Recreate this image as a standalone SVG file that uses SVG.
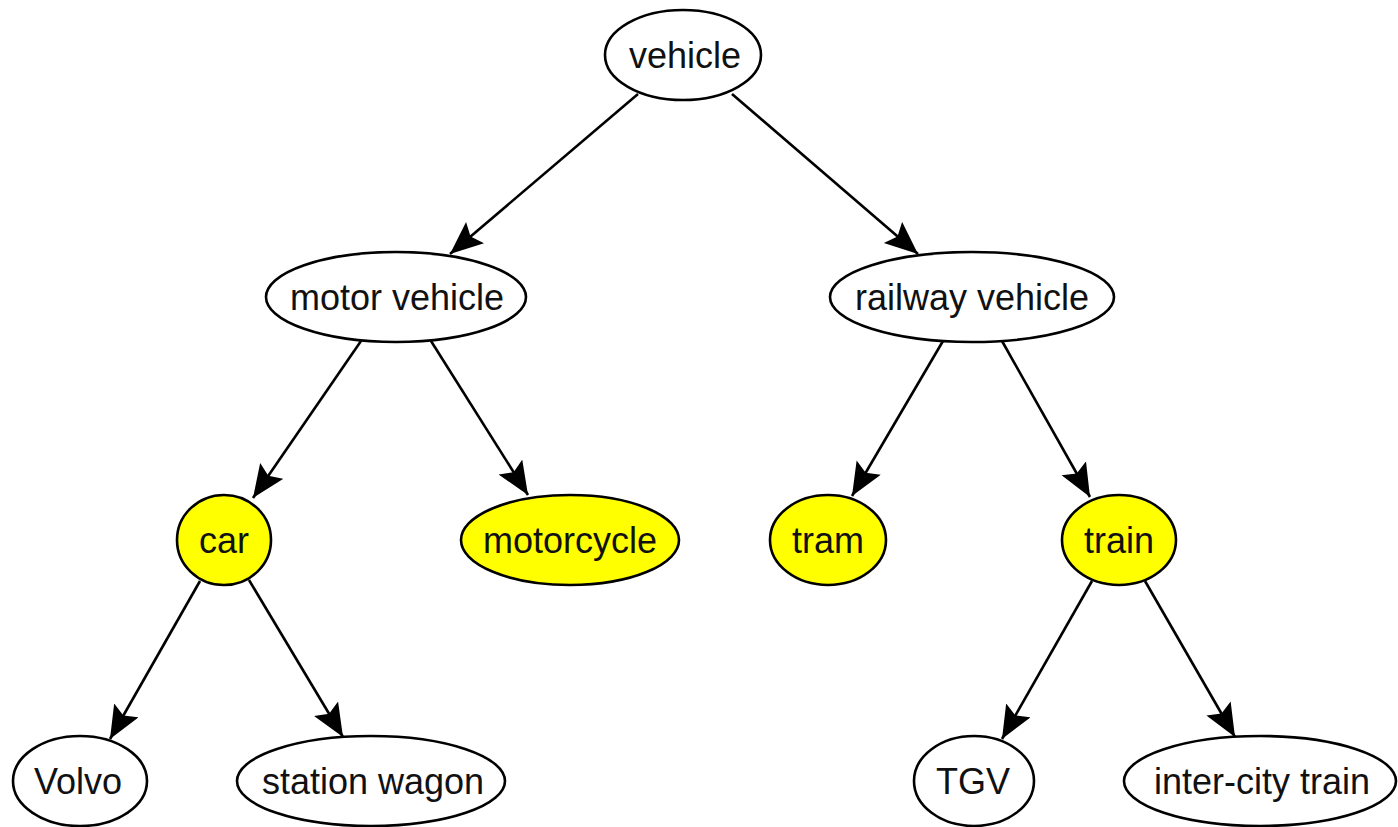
<svg xmlns="http://www.w3.org/2000/svg" width="1398" height="827" viewBox="0 0 1398 827">
<style>
.n ellipse{fill:#fff;stroke:#000;stroke-width:2.6}
.n.y ellipse{fill:#ffff00}
.n text{font-family:"Liberation Sans",Arial,sans-serif;font-size:36px;fill:#111;text-anchor:middle}
.e line{stroke:#000;stroke-width:2.6}
</style>
<defs>
<marker id="a" markerUnits="userSpaceOnUse" markerWidth="36" markerHeight="30" refX="33" refY="14" orient="auto">
<path d="M0,0 L33,14 L0,28 L6,14 z" fill="#000"/>
</marker>
</defs>
<rect width="1398" height="827" fill="#fff"/>
<g id="connectors" class="e">
<line x1="638" y1="94" x2="450" y2="254" marker-end="url(#a)"/>
<line x1="732" y1="94" x2="918" y2="254" marker-end="url(#a)"/>
<line x1="361" y1="341" x2="253" y2="498" marker-end="url(#a)"/>
<line x1="431" y1="341" x2="528" y2="495" marker-end="url(#a)"/>
<line x1="943" y1="341" x2="852" y2="496" marker-end="url(#a)"/>
<line x1="1002" y1="341" x2="1090" y2="497" marker-end="url(#a)"/>
<line x1="200" y1="581" x2="110" y2="739" marker-end="url(#a)"/>
<line x1="249" y1="580" x2="343" y2="737" marker-end="url(#a)"/>
<line x1="1092" y1="581" x2="1002" y2="739" marker-end="url(#a)"/>
<line x1="1145" y1="581" x2="1235" y2="737" marker-end="url(#a)"/>
</g>
<g id="vehicle" class="n"><ellipse cx="683" cy="55" rx="78" ry="45"/><text x="685" y="68">vehicle</text></g>
<g id="motor_vehicle" class="n"><ellipse cx="396" cy="297" rx="130" ry="45"/><text x="397" y="310">motor vehicle</text></g>
<g id="railway_vehicle" class="n"><ellipse cx="972" cy="297" rx="142" ry="45"/><text x="972" y="310">railway vehicle</text></g>
<g id="car" class="n y"><ellipse cx="224" cy="540" rx="47" ry="45"/><text x="224" y="553">car</text></g>
<g id="motorcycle" class="n y"><ellipse cx="570" cy="540" rx="109" ry="45"/><text x="570" y="553">motorcycle</text></g>
<g id="tram" class="n y"><ellipse cx="828" cy="540" rx="58" ry="45"/><text x="828" y="553">tram</text></g>
<g id="train" class="n y"><ellipse cx="1119" cy="540" rx="57" ry="45"/><text x="1119" y="553">train</text></g>
<g id="volvo" class="n"><ellipse cx="80" cy="781" rx="67" ry="45"/><text x="78" y="794">Volvo</text></g>
<g id="station_wagon" class="n"><ellipse cx="371" cy="781" rx="134" ry="45"/><text x="373" y="794">station wagon</text></g>
<g id="tgv" class="n"><ellipse cx="974" cy="781" rx="60" ry="45"/><text x="973" y="794">TGV</text></g>
<g id="inter_city_train" class="n"><ellipse cx="1260" cy="781" rx="136" ry="45"/><text x="1262" y="794">inter-city train</text></g>
</svg>
